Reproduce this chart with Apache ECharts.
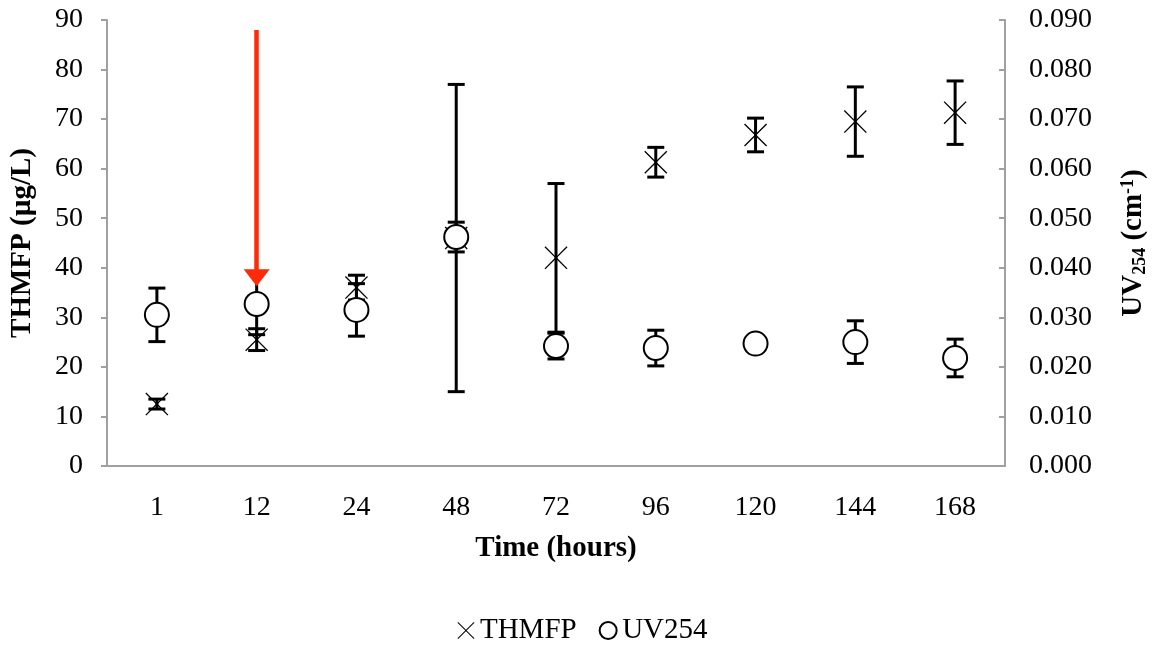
<!DOCTYPE html>
<html>
<head>
<meta charset="utf-8">
<script src="https://cdn.jsdelivr.net/npm/echarts@6/dist/echarts.min.js"></script>
<style>
  html, body { margin: 0; padding: 0; background: #fff; }
  #chart { width: 1165px; height: 651px; }
</style>
</head>
<body>
<div id="chart"></div>
<script>
// values
const hours = ["1", "12", "24", "48", "72", "96", "120", "144", "168"];
const thmfp = [12.5, 25.5, 36.0, 46.0, 42.0, 61.3, 66.8, 69.5, 71.3];
const thmfpErr = [1.0, 2.2, 2.5, 31.0, 15.0, 3.0, 3.4, 7.0, 6.4];
const uv254 = [0.0305, 0.0327, 0.0315, 0.0462, 0.0242, 0.0238, 0.0247, 0.025, 0.0218];
const uv254Err = [0.0054, 0.0062, 0.0053, 0.003, 0.0026, 0.0036, 0.0, 0.0043, 0.0038];
// red arrow: category, start value, tip value (left axis)
const arrowAt = ["12"];
const arrowFrom = [88];
const arrowTo = [38];

const serif = "Liberation Serif";
const crossPath = "path://M0,4L4,0L50,46L96,0L100,4L54,50L100,96L96,100L50,54L4,100L0,96L46,50Z";

const chart = echarts.init(document.getElementById("chart"));

// error bar: vertical line with caps
function errorBar(params, api) {
  const i = api.value(0);
  const hi = api.coord([i, api.value(1)]);
  const lo = api.coord([i, api.value(2)]);
  const w = 8.5;
  const st = { stroke: "#000", lineWidth: 3 };
  return {
    type: "group",
    children: [
      { type: "line", shape: { x1: hi[0], y1: hi[1], x2: lo[0], y2: lo[1] }, style: st },
      { type: "line", shape: { x1: hi[0] - w, y1: hi[1], x2: hi[0] + w, y2: hi[1] }, style: st },
      { type: "line", shape: { x1: lo[0] - w, y1: lo[1], x2: lo[0] + w, y2: lo[1] }, style: st },
    ],
  };
}

const thmfpBars = thmfp.map((v, i) => [i, v + thmfpErr[i], v - thmfpErr[i]]);
const uvBars = uv254.map((v, i) => [i, v + uv254Err[i], v - uv254Err[i]]);

const greyLine = { color: "#a0a0a0", width: 2 };
const tickFont = { fontFamily: serif, fontSize: 28, color: "#000" };
const titleFont = { fontFamily: serif, fontSize: 29, fontWeight: "bold", color: "#000" };

const option = {
  animation: false,
  grid: { left: 107, right: 160, top: 20, bottom: 185 },
  legend: {
    bottom: 1,
    left: "center",
    itemWidth: 18,
    itemHeight: 17,
    itemGap: 22,
    textStyle: { fontFamily: serif, fontSize: 29, color: "#000" },
    data: ["THMFP", "UV254"],
  },
  xAxis: {
    type: "category",
    data: hours,
    name: "Time (hours)",
    nameLocation: "middle",
    nameGap: 68,
    nameTextStyle: titleFont,
    axisLine: { lineStyle: greyLine },
    axisTick: { length: 6, lineStyle: greyLine },
    axisLabel: Object.assign({ margin: 28 }, tickFont),
  },
  yAxis: [
    {
      type: "value",
      min: 0,
      max: 90,
      interval: 10,
      name: "THMFP (µg/L)",
      nameLocation: "middle",
      nameGap: 70,
      nameTextStyle: titleFont,
      axisLine: { show: true, lineStyle: greyLine },
      axisTick: { show: true, length: 6, lineStyle: greyLine },
      axisLabel: Object.assign({ margin: 24 }, tickFont),
      splitLine: { show: false },
    },
    {
      type: "value",
      min: 0,
      max: 0.09,
      interval: 0.01,
      position: "right",
      name: "UV{sub|254} (cm{sup|-1})",
      nameLocation: "middle",
      nameGap: 114,
      nameTextStyle: Object.assign({
        rich: {
          sub: { fontFamily: serif, fontSize: 18, fontWeight: "bold", color: "#000", verticalAlign: "bottom", padding: [12, 0, 0, 0] },
          sup: { fontFamily: serif, fontSize: 18, fontWeight: "bold", color: "#000", verticalAlign: "top", padding: [0, 0, 12, 0] },
        },
      }, titleFont),
      axisLine: { show: true, lineStyle: greyLine },
      axisTick: { show: true, inside: true, length: 6, lineStyle: greyLine },
      axisLabel: Object.assign({ margin: 24, formatter: (v) => v.toFixed(3) }, tickFont),
      splitLine: { show: false },
    },
  ],
  series: [
    {
      name: "THMFP err",
      type: "custom",
      yAxisIndex: 0,
      renderItem: errorBar,
      data: thmfpBars,
      z: 2,
      silent: true,
    },
    {
      name: "THMFP",
      type: "scatter",
      yAxisIndex: 0,
      data: thmfp,
      symbol: crossPath,
      symbolSize: 23,
      itemStyle: { color: "#000", opacity: 1 },
      z: 3,
      markLine: {
        silent: true,
        symbol: ["none", "triangle"],
        symbolSize: [26, 17],
        label: { show: false },
        lineStyle: { color: "#ff2a0a", width: 4.5, type: "solid", opacity: 1 },
        data: arrowAt.map((c, i) => [
          { coord: [c, arrowFrom[i]] },
          { coord: [c, arrowTo[i]] },
        ]),
        z: 10,
      },
    },
    {
      name: "UV254 err",
      type: "custom",
      yAxisIndex: 1,
      renderItem: errorBar,
      data: uvBars,
      z: 4,
      silent: true,
    },
    {
      name: "UV254",
      type: "scatter",
      yAxisIndex: 1,
      data: uv254,
      symbol: "circle",
      symbolSize: 24,
      itemStyle: { color: "#fff", borderColor: "#000", borderWidth: 2, opacity: 1 },
      z: 5,
    },
  ],
};

chart.setOption(option);
</script>
</body>
</html>
